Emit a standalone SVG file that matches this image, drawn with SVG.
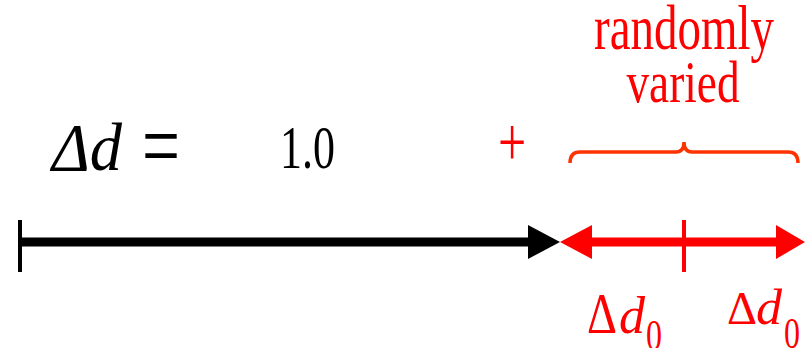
<svg xmlns="http://www.w3.org/2000/svg" width="805" height="348" viewBox="0 0 805 348">
<style>
text{font-family:'Liberation Serif','DejaVu Serif','Noto Serif',serif;}
.k{fill:#000;}
.r{fill:#ff0000;}
.i{font-style:italic;}
</style>
<rect width="805" height="348" fill="#fff"/>
<g id="connectors">
  <line x1="20" y1="220" x2="20" y2="272" stroke="#000" stroke-width="4"/>
  <line x1="20" y1="242" x2="530" y2="242" stroke="#000" stroke-width="9"/>
  <polygon points="528,225 560,242 528,259" fill="#000"/>
  <line x1="590" y1="242" x2="778" y2="242" stroke="#ff0000" stroke-width="9"/>
  <polygon points="592,225 560,242 592,259" fill="#ff0000"/>
  <polygon points="776,225 805,242 776,259" fill="#ff0000"/>
  <line x1="684" y1="220" x2="684" y2="272" stroke="#ff0000" stroke-width="4"/>
  <path d="M570,163 Q570,152 580,152 L676,152 Q684,152 684,142 Q684,152 692,152 L788,152 Q798,152 798,163" fill="none" stroke="#ff3300" stroke-width="3.5"/>
</g>
<g id="eq">
  <text class="k i" transform="translate(52,170) scale(1,1.3)" font-size="52" textLength="70" lengthAdjust="spacingAndGlyphs">Δd</text>
  <text class="k" transform="translate(142,178) scale(1,1.55)" font-size="62" textLength="38" lengthAdjust="spacingAndGlyphs">=</text>
  <text class="k" transform="translate(280,168) scale(1,1.35)" font-size="45" textLength="55" lengthAdjust="spacingAndGlyphs">1.0</text>
</g>
<g id="plus">
  <text class="r" transform="translate(512,166) scale(1,1.4)" font-size="50" text-anchor="middle">+</text>
</g>
<g id="label">
  <text class="r" transform="translate(684,49) scale(1,1.38)" font-size="46" text-anchor="middle" textLength="180" lengthAdjust="spacingAndGlyphs">randomly</text>
  <text class="r" transform="translate(683,102) scale(1,1.3)" font-size="45" text-anchor="middle" textLength="113" lengthAdjust="spacingAndGlyphs">varied</text>
</g>
<g id="d0a">
  <text class="r" transform="translate(587,333) scale(1,1.25)" font-size="46" textLength="30" lengthAdjust="spacingAndGlyphs">Δ</text>
  <text class="r i" transform="translate(619,333) scale(1,1.2)" font-size="44" textLength="26" lengthAdjust="spacingAndGlyphs">d</text>
  <text class="r" transform="translate(646,350) scale(1,1.5)" font-size="30" textLength="16" lengthAdjust="spacingAndGlyphs">0</text>
</g>
<g id="d0b">
  <text class="r" transform="translate(727,324)" font-size="46" textLength="30" lengthAdjust="spacingAndGlyphs">Δ</text>
  <text class="r i" transform="translate(756,324) scale(1,1.13)" font-size="44" textLength="26" lengthAdjust="spacingAndGlyphs">d</text>
  <text class="r" transform="translate(784,348) scale(1,1.5)" font-size="30" textLength="16" lengthAdjust="spacingAndGlyphs">0</text>
</g>
</svg>
